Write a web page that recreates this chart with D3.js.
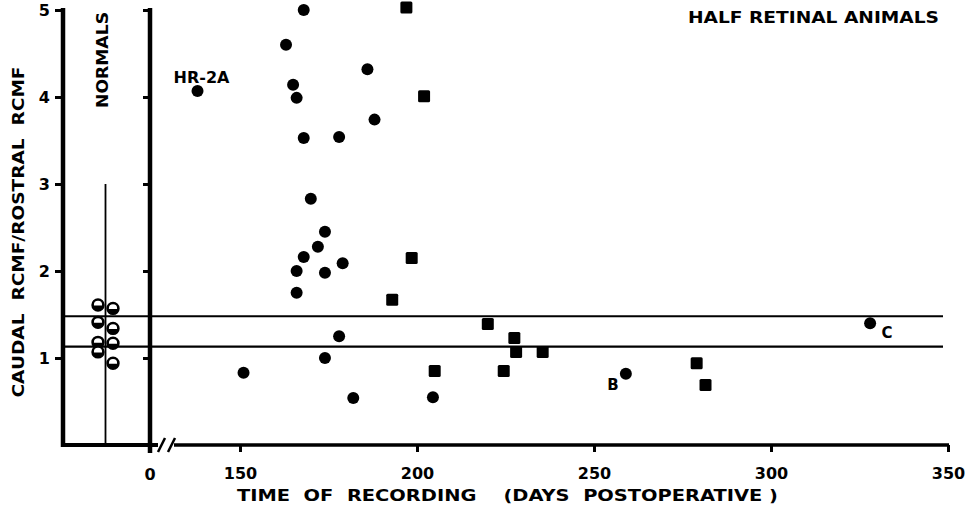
<!DOCTYPE html>
<html>
<head>
<meta charset="utf-8">
<script src="https://cdn.jsdelivr.net/npm/d3@7.9.0/dist/d3.min.js"></script>
<style>
  html, body { margin: 0; padding: 0; background: #fff; }
  svg { display: block; }
  text { font-family: "DejaVu Sans", sans-serif; font-weight: bold; fill: #000; white-space: pre; }
</style>
</head>
<body>
<svg id="chart" width="973" height="510"></svg>
<script>
// values
const dayTicks = [150, 200, 250, 300, 350];
const ratioTicks = [1, 2, 3, 4, 5];

// half retinal animals, round markers
const circleDays = [138, 151, 163, 165, 166, 168, 168, 170, 174, 172, 168, 166, 174, 179, 166, 178, 186, 188, 178, 174, 182, 204.5, 259, 328];
const circleRatios = [4.07, 0.83, 4.6, 4.14, 3.99, 5.0, 3.53, 2.83, 2.45, 2.28, 2.16, 2.0, 1.98, 2.09, 1.75, 3.54, 4.32, 3.74, 1.25, 1.0, 0.54, 0.55, 0.82, 1.4];

// half retinal animals, square markers
const squareDays = [197, 202, 198.5, 193, 205, 220, 227.5, 228, 235.5, 224.5, 279, 281.5];
const squareRatios = [5.03, 4.01, 2.15, 1.67, 0.85, 1.39, 1.23, 1.07, 1.07, 0.85, 0.94, 0.69];

// normal animals (two columns either side of the stem)
const normalsLeft = [1.61, 1.41, 1.18, 1.07];
const normalsRight = [1.57, 1.34, 1.17, 0.94];
const normalsTop = 3;

// normal range band
const normalRange = [1.13, 1.48];

// labelled animals: index into circle arrays
const pointNames = [
  { name: "HR-2A", idx: 0, dx: 4, dy: -8 },
  { name: "B", idx: 22, dx: -13, dy: 16 },
  { name: "C", idx: 23, dx: 17, dy: 15 }
];

const svg = d3.select("#chart");

const x = d3.scaleLinear().domain([150, 350]).range([240, 948]);
const y = d3.scaleLinear().domain([0, 5]).range([445, 10]);
const xNorm = d3.scalePoint().domain(["L", "stem", "R"]).range([98, 113]);

const leftAxisX = 63, zeroX = 150;

// normal range lines
svg.selectAll("line.range")
  .data(normalRange)
  .enter().append("line")
  .attr("x1", leftAxisX).attr("x2", 943)
  .attr("y1", d => y(d)).attr("y2", d => y(d))
  .attr("stroke", "#000").attr("stroke-width", 2.2);

// left y axis
const yAxisL = svg.append("g").attr("transform", `translate(${leftAxisX},0)`)
  .call(d3.axisLeft(y).tickValues(ratioTicks).tickFormat(d3.format("d")).tickSize(8).tickPadding(5));
yAxisL.select(".domain").remove();
yAxisL.selectAll(".tick line").attr("stroke-width", 3);
yAxisL.selectAll(".tick text").style("font-size", "16px").attr("dy", "0.36em");
svg.append("line").attr("x1", leftAxisX).attr("x2", leftAxisX)
  .attr("y1", y(5) - 2).attr("y2", y(0) + 2)
  .attr("stroke", "#000").attr("stroke-width", 4.5);

// second (zero) y axis
const yAxisR = svg.append("g").attr("transform", `translate(${zeroX},0)`)
  .call(d3.axisLeft(y).tickValues(ratioTicks).tickSize(7).tickFormat(""));
yAxisR.select(".domain").remove();
yAxisR.selectAll(".tick line").attr("stroke-width", 3);
svg.append("line").attr("x1", zeroX).attr("x2", zeroX)
  .attr("y1", y(5) - 2).attr("y2", y(0) + 8)
  .attr("stroke", "#000").attr("stroke-width", 4.5);

// bottom of the normals panel and the broken x axis
svg.append("line").attr("x1", leftAxisX - 2).attr("x2", 158)
  .attr("y1", y(0)).attr("y2", y(0)).attr("stroke", "#000").attr("stroke-width", 4);
svg.append("line").attr("x1", 174).attr("x2", x(350) + 1)
  .attr("y1", y(0)).attr("y2", y(0)).attr("stroke", "#000").attr("stroke-width", 3.5);
[158, 168].forEach(bx => {
  svg.append("line").attr("x1", bx).attr("x2", bx + 7)
    .attr("y1", y(0) + 7).attr("y2", y(0) - 7)
    .attr("stroke", "#000").attr("stroke-width", 2.5);
});

const xAxis = svg.append("g").attr("transform", `translate(0,${y(0)})`)
  .call(d3.axisBottom(x).tickValues(dayTicks).tickSize(7).tickPadding(16));
xAxis.select(".domain").remove();
xAxis.selectAll(".tick line").attr("stroke-width", 3);
xAxis.selectAll(".tick text").style("font-size", "16px");
svg.append("text").attr("x", zeroX).attr("y", 479.5)
  .attr("text-anchor", "middle").style("font-size", "16px").text("0");

// normals stem
svg.append("line").attr("x1", xNorm("stem")).attr("x2", xNorm("stem"))
  .attr("y1", y(normalsTop)).attr("y2", y(0))
  .attr("stroke", "#000").attr("stroke-width", 1.8);

// normals markers: open top, filled bottom
const normals = normalsLeft.map(v => ({ side: "L", v }))
  .concat(normalsRight.map(v => ({ side: "R", v })));
const halfArc = d3.arc().innerRadius(0).outerRadius(5.4)
  .startAngle(Math.PI / 2).endAngle(Math.PI * 1.5);
const ng = svg.selectAll("g.normal").data(normals).enter().append("g")
  .attr("transform", d => `translate(${xNorm(d.side)},${y(d.v)})`);
ng.append("circle").attr("r", 5.4).attr("fill", "#fff")
  .attr("stroke", "#000").attr("stroke-width", 2.6);
ng.append("path").attr("d", halfArc).attr("transform", "translate(0,0.5)").attr("fill", "#000");

// circles
svg.selectAll("circle.dot")
  .data(d3.zip(circleDays, circleRatios))
  .enter().append("circle")
  .attr("cx", d => x(d[0])).attr("cy", d => y(d[1]))
  .attr("r", 6).attr("fill", "#000");

// squares
svg.selectAll("rect.sq")
  .data(d3.zip(squareDays, squareRatios))
  .enter().append("rect")
  .attr("x", d => x(d[0]) - 6).attr("y", d => y(d[1]) - 6)
  .attr("width", 12).attr("height", 12).attr("rx", 1.5)
  .attr("fill", "#000");

// point labels
svg.selectAll("text.pname").data(pointNames).enter().append("text")
  .attr("x", d => x(circleDays[d.idx]) + d.dx)
  .attr("y", d => y(circleRatios[d.idx]) + d.dy)
  .attr("text-anchor", "middle")
  .style("font-size", d => d.name.length > 1 ? "16px" : "15px")
  .text(d => d.name);

// titles
svg.append("text").attr("x", 688).attr("y", 23)
  .attr("textLength", 251).attr("lengthAdjust", "spacingAndGlyphs")
  .style("font-size", "16px").text("HALF RETINAL ANIMALS");

svg.append("text").attr("x", 237).attr("y", 501)
  .attr("textLength", 541).attr("lengthAdjust", "spacingAndGlyphs")
  .style("font-size", "16px").text("TIME  OF  RECORDING    (DAYS  POSTOPERATIVE )");

svg.append("text").attr("transform", "translate(24,232) rotate(-90)")
  .attr("text-anchor", "middle")
  .attr("textLength", 331).attr("lengthAdjust", "spacingAndGlyphs")
  .style("font-size", "16px").text("CAUDAL  RCMF/ROSTRAL  RCMF");

svg.append("text").attr("transform", "translate(108,60) rotate(-90)")
  .attr("text-anchor", "middle")
  .attr("textLength", 96).attr("lengthAdjust", "spacingAndGlyphs")
  .style("font-size", "16px").text("NORMALS");
</script>
</body>
</html>
